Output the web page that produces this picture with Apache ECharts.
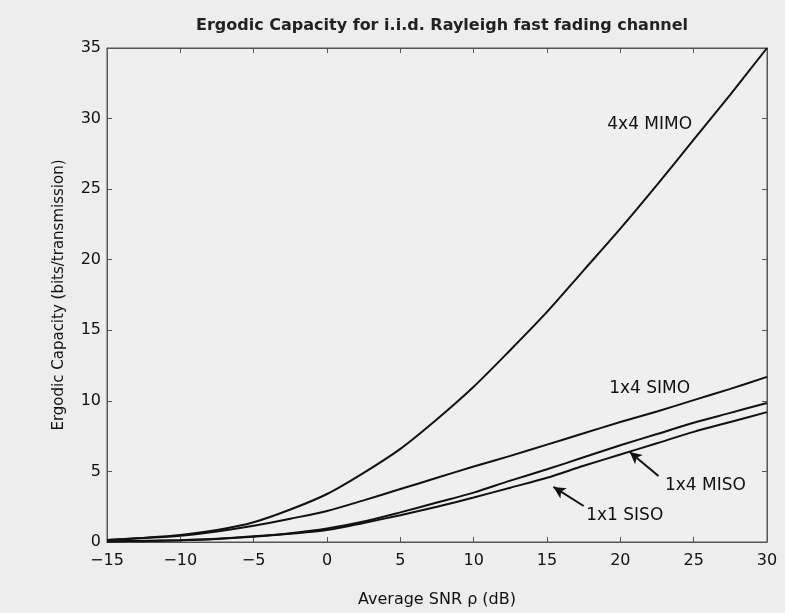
<!DOCTYPE html>
<html>
<head>
<meta charset="utf-8">
<script src="https://cdn.jsdelivr.net/npm/echarts@6/dist/echarts.min.js"></script>
<style>
html,body{margin:0;padding:0;background:#ededed;}
#c{width:785px;height:613px;}
</style>
</head>
<body>
<div id="c"></div>
<script>
// SNR values (dB)
const snr = [-15, -12.5, -10, -7.5, -5, -2.5, 0, 2.5, 5, 7.5, 10, 12.5, 15, 17.5, 20, 22.5, 25, 27.5, 30];
// Ergodic capacity (bits/transmission)
const mimo4x4 = [0.15, 0.3, 0.5, 0.85, 1.4, 2.3, 3.4, 4.9, 6.6, 8.7, 11.0, 13.6, 16.3, 19.25, 22.2, 25.3, 28.5, 31.7, 35.0];
const simo1x4 = [0.15, 0.28, 0.45, 0.75, 1.15, 1.65, 2.2, 2.95, 3.75, 4.55, 5.35, 6.1, 6.9, 7.7, 8.5, 9.25, 10.05, 10.85, 11.7];
const miso1x4 = [0.04, 0.08, 0.13, 0.23, 0.4, 0.62, 0.95, 1.45, 2.1, 2.8, 3.5, 4.35, 5.15, 6.0, 6.85, 7.65, 8.45, 9.15, 9.85];
const siso1x1 = [0.03, 0.06, 0.12, 0.22, 0.37, 0.58, 0.85, 1.35, 1.9, 2.5, 3.15, 3.85, 4.55, 5.4, 6.2, 7.0, 7.8, 8.5, 9.2];
const seriesNames = ['4x4 MIMO', '1x4 SIMO', '1x4 MISO', '1x1 SISO'];
const xTicks = [-15, -10, -5, 0, 5, 10, 15, 20, 25, 30];
const yTicks = [0, 5, 10, 15, 20, 25, 30, 35];

// annotation placement (data space)
const labelPos = [[22.0, 29.6], [22.0, 10.85], [25.8, 3.97], [20.3, 1.84]];
const arrows = [[[22.6, 4.68], [20.64, 6.38]], [[17.5, 2.55], [15.44, 3.9]]];

const FONT = 'DejaVu Sans';
const INK = '#111';
const allData = [mimo4x4, simo1x4, miso1x4, siso1x1];

const series = allData.map((vals, i) => ({
  name: seriesNames[i],
  type: 'line',
  data: snr.map((x, j) => [x, vals[j]]),
  showSymbol: false,
  smooth: 0.3,
  lineStyle: {color: INK, width: 2},
  itemStyle: {color: INK},
  z: 3,
  markPoint: {
    symbol: 'circle', symbolSize: 0,
    label: {show: true, position: 'inside', color: INK, fontFamily: FONT, fontSize: 17,
      formatter: seriesNames[i]},
    data: [{coord: labelPos[i]}]
  }
}));
series[2].markLine = {
  silent: true, symbol: ['none', 'arrow'], symbolSize: [9, 12],
  lineStyle: {color: INK, width: 2, type: 'solid'}, label: {show: false},
  data: [[{coord: arrows[0][0]}, {coord: arrows[0][1]}]]
};
series[3].markLine = {
  silent: true, symbol: ['none', 'arrow'], symbolSize: [9, 12],
  lineStyle: {color: INK, width: 2, type: 'solid'}, label: {show: false},
  data: [[{coord: arrows[1][0]}, {coord: arrows[1][1]}]]
};

const axisCommon = {
  axisLine: {show: true, onZero: false, lineStyle: {color: '#555', width: 1}},
  axisTick: {show: true, inside: true, length: 5, lineStyle: {color: '#555'}},
  splitLine: {show: false}
};

const chart = echarts.init(document.getElementById('c'));
chart.setOption({
  animation: false,
  backgroundColor: '#ededed',
  title: {
    text: 'Ergodic Capacity for i.i.d. Rayleigh fast fading channel',
    left: 437, top: 13, textAlign: 'center',
    textStyle: {fontFamily: FONT, fontSize: 16, fontWeight: 'bold', color: '#222'}
  },
  grid: {left: 107, right: 18, top: 48, bottom: 70, show: true, backgroundColor: '#efefef', borderColor: '#555', borderWidth: 1},
  xAxis: [
    Object.assign({
      type: 'value', min: -15, max: 30, interval: 5, position: 'bottom',
      name: 'Average SNR ρ (dB)', nameLocation: 'middle', nameGap: 50,
      nameTextStyle: {fontFamily: FONT, fontSize: 16, color: INK},
      axisLabel: {fontFamily: FONT, fontSize: 16, color: INK, margin: 11,
        formatter: v => xTicks.includes(v) ? String(v).replace('-', '\u2212') : ''}
    }, axisCommon),
    Object.assign({
      type: 'value', min: -15, max: 30, interval: 5, position: 'top',
      axisLabel: {show: false}
    }, axisCommon)
  ],
  yAxis: [
    Object.assign({
      type: 'value', min: 0, max: 35, interval: 5, position: 'left',
      name: 'Ergodic Capacity (bits/transmission)', nameLocation: 'middle', nameGap: 40,
      nameTextStyle: {fontFamily: FONT, fontSize: 15, color: INK},
      axisLabel: {fontFamily: FONT, fontSize: 16, color: INK, margin: 6,
        formatter: v => yTicks.includes(v) ? String(v) : ''}
    }, axisCommon),
    Object.assign({
      type: 'value', min: 0, max: 35, interval: 5, position: 'right',
      axisLabel: {show: false}
    }, axisCommon)
  ],
  series: series
});
</script>
</body>
</html>
